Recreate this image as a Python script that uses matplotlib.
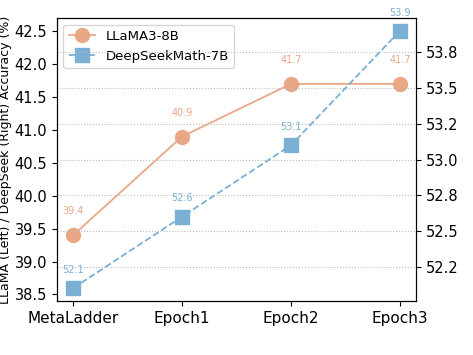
import matplotlib
matplotlib.use('Agg')
import matplotlib.pyplot as plt
from matplotlib.ticker import FormatStrFormatter

stages = ['MetaLadder', 'Epoch1', 'Epoch2', 'Epoch3']
llama = [39.4, 40.9, 41.7, 41.7]
deepseek = [52.1, 52.6, 53.1, 53.9]

c_llama = '#E9A786'
c_ds = '#7BAFD4'

fig, ax = plt.subplots(figsize=(4.73, 3.55), dpi=100)
fig.subplots_adjust(left=0.12, right=0.88, bottom=0.152, top=0.949)
ax2 = ax.twinx()

x = range(len(stages))
l1, = ax.plot(x, llama, '-o', color=c_llama, markersize=10, lw=1.3, label='LLaMA3-8B')
l2, = ax2.plot(x, deepseek, '--s', color=c_ds, markersize=10, lw=1.3, label='DeepSeekMath-7B')

for i, v in enumerate(llama):
    ax.annotate(f'{v}', (i, v), textcoords='offset points', xytext=(0, 15),
                ha='center', fontsize=7, color=c_llama)
for i, v in enumerate(deepseek):
    ax2.annotate(f'{v}', (i, v), textcoords='offset points', xytext=(0, 11),
                 ha='center', fontsize=7, color=c_ds)

ax.set_ylim(min(llama) - 1, max(llama) + 1)
ax.set_xticks(list(x))
ax.set_xticklabels(stages, fontsize=11)
ax.tick_params(axis='y', labelsize=10.5)
ax2.tick_params(axis='y', labelsize=10.5)
ax2.yaxis.set_major_formatter(FormatStrFormatter('%.1f'))
ax2.grid(True, linestyle=':', color='#bbbbbb', lw=0.8)
ax.set_ylabel('LLaMA (Left) / DeepSeek (Right) Accuracy (%)', fontsize=9, labelpad=2)

ax.legend(handles=[l1, l2], loc='upper left', fontsize=9.5)

plt.savefig('out.png')
